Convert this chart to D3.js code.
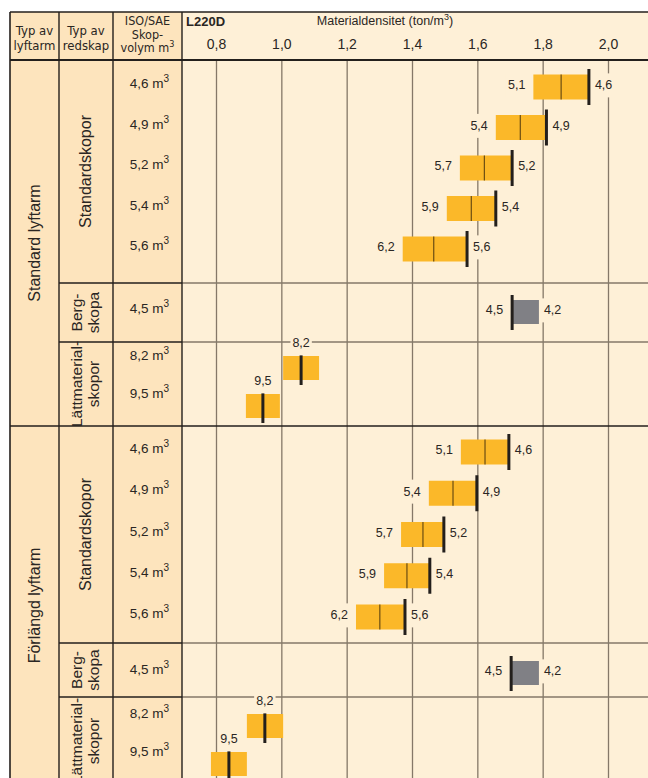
<!DOCTYPE html>
<html>
<head>
<meta charset="utf-8">
<script src="https://cdn.jsdelivr.net/npm/d3@7"></script>
<style>
  body { margin: 0; background: #fff; }
  text { font-family: "Liberation Sans", Arial, sans-serif; fill: #2a2623; }
  .narrow { font-family: "Liberation Sans Narrow", "DejaVu Sans Condensed", "Liberation Sans", sans-serif; }
</style>
</head>
<body>
<div id="root"></div>
<script>
// Data
const sectionNames = ["Standard lyftarm", "Förlängd lyftarm"]
const densityTicks = [0.8, 1.0, 1.2, 1.4, 1.6, 1.8, 2.0]

const stdVolumes = ["4,6", "4,9", "5,2", "5,4", "5,6"]
const stdFillLabels = ["5,1", "5,4", "5,7", "5,9", "6,2"]
const stdLo = [[1.77, 1.655, 1.545, 1.505, 1.37], [1.548, 1.45, 1.365, 1.313, 1.227]]
const stdMid = [[1.855, 1.73, 1.62, 1.58, 1.465], [1.622, 1.524, 1.432, 1.383, 1.30]]
const stdHi = [[1.94, 1.81, 1.705, 1.655, 1.567], [1.695, 1.597, 1.496, 1.453, 1.377]]

const rockVolumes = ["4,5"]
const rockLabels = ["4,5", "4,2"]
const rockLo = [1.705, 1.702]
const rockHi = [1.787, 1.787]

const lightVolumes = ["8,2", "9,5"]
const lightLo = [[1.004, 0.89], [0.893, 0.783]]
const lightMid = [[1.059, 0.942], [0.948, 0.838]]
const lightHi = [[1.114, 0.994], [1.004, 0.893]]

// Layout
const W = 648, H = 778
const colX = [10, 59, 113, 182]
const headTop = 12, headBottom = 60
const sectionExtents = [[60, 426], [426, 785]]
const groupExtents = [
  {std: [60, 283], rock: [283, 342], light: [342, 426]},
  {std: [426, 643], rock: [643, 697], light: [697, 785]},
]
const rowRanges = [
  {std: [87, 249], rock: [312, 312], light: [368, 406]},
  {std: [452, 617], rock: [673, 673], light: [726, 764]},
]

const cream = "#fef0d7", cell = "#fde4bd", orange = "#fbb829",
  grey = "#808085", ink = "#231f1c", grid = "#857868"

const locale = d3.formatLocale({decimal: ",", thousands: " ", grouping: [3], currency: ["", ""]})
const fmt = locale.format(".1f")

const x = d3.scaleLinear()
  .domain([0.8, 2.0])
  .range([216.5, 608.5])

const svg = d3.select("#root")
  .append("svg")
    .attr("width", W)
    .attr("height", H)

// Backgrounds
svg.append("rect")
  .attr("x", colX[0]).attr("y", headTop)
  .attr("width", colX[3] - colX[0]).attr("height", H - headTop)
  .attr("fill", cell)
svg.append("rect")
  .attr("x", colX[3]).attr("y", headTop)
  .attr("width", W - colX[3]).attr("height", H - headTop)
  .attr("fill", cream)

// Vertical gridlines
sectionExtents.forEach(ext => {
  svg.append("g")
    .selectAll("line")
    .data(densityTicks)
    .enter()
    .append("line")
    .attr("x1", d => x(d)).attr("x2", d => x(d))
    .attr("y1", ext[0]).attr("y2", ext[1])
    .attr("stroke", grid)
    .attr("stroke-width", 1.3)
})

// Group separators inside each section
groupExtents.forEach(g => {
  [g.rock[0], g.light[0]].forEach(yy => {
    svg.append("line")
      .attr("x1", colX[1]).attr("x2", colX[3])
      .attr("y1", yy).attr("y2", yy)
      .attr("stroke", ink).attr("stroke-width", 1.3)
    svg.append("line")
      .attr("x1", colX[3]).attr("x2", W)
      .attr("y1", yy).attr("y2", yy)
      .attr("stroke", grid).attr("stroke-width", 1.3)
  })
})

// Label with a background that hides gridlines
function label(g, txt, xx, yy, anchor) {
  const t = g.append("text")
    .attr("x", xx).attr("y", yy)
    .attr("dy", "0.35em")
    .attr("text-anchor", anchor)
    .attr("font-size", 12.5)
    .text(txt)
  const b = t.node().getBBox()
  g.insert("rect", () => t.node())
    .attr("x", b.x - 2).attr("y", b.y - 5)
    .attr("width", b.width + 4).attr("height", b.height + 10)
    .attr("fill", cream)
}

const marks = svg.append("g")

sectionNames.forEach((name, s) => {
  // Standard buckets
  const yStd = d3.scalePoint().domain(stdVolumes).range(rowRanges[s].std)
  stdVolumes.forEach((v, i) => {
    const cy = yStd(v)
    marks.append("rect")
      .attr("x", x(stdLo[s][i])).attr("y", cy - 12.5)
      .attr("width", x(stdHi[s][i]) - x(stdLo[s][i])).attr("height", 25)
      .attr("fill", orange)
    marks.append("line")
      .attr("x1", x(stdMid[s][i])).attr("x2", x(stdMid[s][i]))
      .attr("y1", cy - 12.5).attr("y2", cy + 12.5)
      .attr("stroke", "#6b4d12").attr("stroke-width", 1.2)
    marks.append("line")
      .attr("x1", x(stdHi[s][i])).attr("x2", x(stdHi[s][i]))
      .attr("y1", cy - 18).attr("y2", cy + 18)
      .attr("stroke", ink).attr("stroke-width", 3)
    label(marks, stdFillLabels[i], x(stdLo[s][i]) - 8, cy - 2, "end")
    label(marks, v, x(stdHi[s][i]) + 6, cy - 2, "start")
  })

  // Rock bucket
  const yRock = d3.scalePoint().domain(rockVolumes).range(rowRanges[s].rock)
  const ry = yRock(rockVolumes[0])
  marks.append("rect")
    .attr("x", x(rockLo[s])).attr("y", ry - 12)
    .attr("width", x(rockHi[s]) - x(rockLo[s])).attr("height", 24)
    .attr("fill", grey)
  marks.append("line")
    .attr("x1", x(rockLo[s])).attr("x2", x(rockLo[s]))
    .attr("y1", ry - 17).attr("y2", ry + 18)
    .attr("stroke", ink).attr("stroke-width", 3)
  label(marks, rockLabels[0], x(rockLo[s]) - 9, ry - 2, "end")
  label(marks, rockLabels[1], x(rockHi[s]) + 5, ry - 2, "start")

  // Light material buckets
  const yLight = d3.scalePoint().domain(lightVolumes).range(rowRanges[s].light)
  lightVolumes.forEach((v, i) => {
    const cy = yLight(v)
    marks.append("rect")
      .attr("x", x(lightLo[s][i])).attr("y", cy - 12)
      .attr("width", x(lightHi[s][i]) - x(lightLo[s][i])).attr("height", 24)
      .attr("fill", orange)
    marks.append("line")
      .attr("x1", x(lightMid[s][i])).attr("x2", x(lightMid[s][i]))
      .attr("y1", cy - 17).attr("y2", cy + 17)
      .attr("stroke", ink).attr("stroke-width", 3)
    label(marks, v, x(lightMid[s][i]), cy - 25, "middle")
  })

  // Left columns
  const sx = (colX[0] + colX[1]) / 2
  const se = sectionExtents[s]
  svg.append("text")
    .attr("transform", `translate(${sx + 5},${(se[0] + se[1]) / 2}) rotate(-90)`)
    .attr("text-anchor", "middle")
    .attr("font-size", 16)
    .text(name)

  const ge = groupExtents[s]
  const gx = (colX[1] + colX[2]) / 2
  svg.append("text")
    .attr("transform", `translate(${gx + 5},${(ge.std[0] + ge.std[1]) / 2}) rotate(-90)`)
    .attr("text-anchor", "middle")
    .attr("font-size", 16)
    .text("Standardskopor")

  const twoLine = (lines, ext) => {
    const t = svg.append("text")
      .attr("transform", `translate(${gx - 4},${(ext[0] + ext[1]) / 2}) rotate(-90)`)
      .attr("text-anchor", "middle")
      .attr("font-size", 15.5)
    lines.forEach((l, k) => t.append("tspan").attr("x", 0).attr("dy", k === 0 ? 0 : 17).text(l))
  }
  twoLine(["Berg-", "skopa"], ge.rock)
  twoLine(["Lättmaterial-", "skopor"], ge.light)

  // Volume column
  const vx = (colX[2] + colX[3]) / 2 + 2
  const volText = (v, yy) => {
    const t = svg.append("text")
      .attr("x", vx).attr("y", yy)
      .attr("text-anchor", "middle")
      .attr("font-size", 13.5)
    t.append("tspan").text(v + " m")
    t.append("tspan").attr("dy", -6).attr("font-size", 10).text("3")
  }
  stdVolumes.forEach(v => volText(v, yStd(v) + 1))
  volText(rockVolumes[0], ry + 1)
  lightVolumes.forEach(v => volText(v, yLight(v) - 8))
})

// Header
const head = svg.append("g")
const headCell = (lines, cx, y0, dy, size) => {
  const t = head.append("text").attr("class", "narrow")
    .attr("text-anchor", "middle").attr("font-size", size)
  lines.forEach((l, k) => {
    const ts = t.append("tspan").attr("x", cx).attr("y", y0 + k * dy)
    if (l.endsWith("^3")) {
      ts.text(l.slice(0, -2))
      t.append("tspan").attr("dy", -5).attr("font-size", 9).text("3")
    } else ts.text(l)
  })
}
headCell(["Typ av", "lyftarm"], (colX[0] + colX[1]) / 2, 35, 15, 13)
headCell(["Typ av", "redskap"], (colX[1] + colX[2]) / 2, 35, 15, 13)
headCell(["ISO/SAE", "Skop-", "volym m^3"], (colX[2] + colX[3]) / 2, 25, 13.5, 12.5)

head.append("text")
  .attr("x", 186).attr("y", 26)
  .attr("font-size", 13).attr("font-weight", "bold")
  .text("L220D")

const title = head.append("text")
  .attr("x", 385).attr("y", 25)
  .attr("text-anchor", "middle")
  .attr("font-size", 12.5)
title.append("tspan").text("Materialdensitet (ton/m")
title.append("tspan").attr("dy", -5).attr("font-size", 9).text("3")
title.append("tspan").attr("dy", 5).text(")")

head.selectAll("text.tick")
  .data(densityTicks)
  .enter()
  .append("text")
  .classed("tick", true)
  .attr("x", d => x(d)).attr("y", 49)
  .attr("text-anchor", "middle")
  .attr("font-size", 14)
  .text(d => fmt(d))

// Frame and column rules
const frame = svg.append("g").attr("stroke", ink).attr("fill", "none")
frame.append("line").attr("x1", colX[0]).attr("x2", W).attr("y1", headTop).attr("y2", headTop).attr("stroke-width", 1.5)
frame.append("line").attr("x1", colX[0]).attr("x2", W).attr("y1", headBottom).attr("y2", headBottom).attr("stroke-width", 1.8)
frame.append("line").attr("x1", colX[0]).attr("x2", W).attr("y1", sectionExtents[1][0]).attr("y2", sectionExtents[1][0]).attr("stroke-width", 1.6)
colX.forEach((cx, i) => {
  frame.append("line")
    .attr("x1", cx).attr("x2", cx)
    .attr("y1", headTop).attr("y2", H)
    .attr("stroke-width", i === 0 ? 1.6 : 1.4)
})
</script>
</body>
</html>
